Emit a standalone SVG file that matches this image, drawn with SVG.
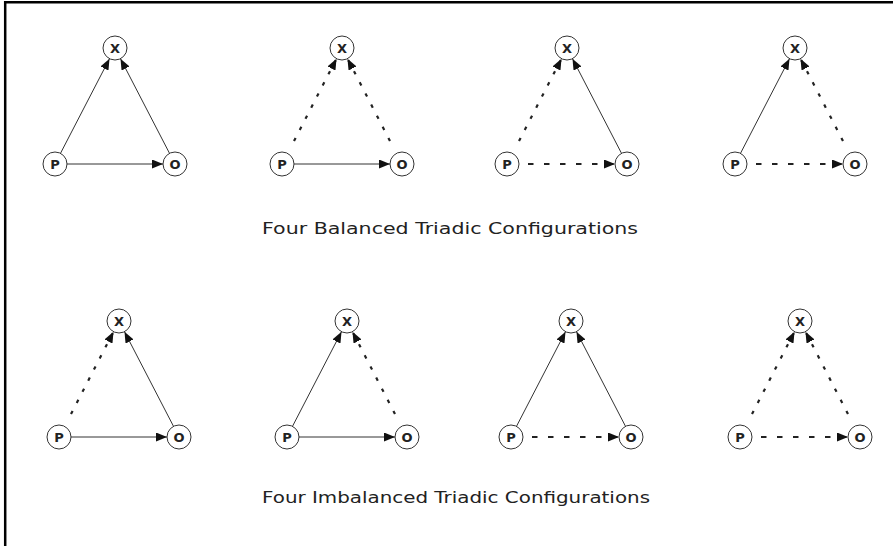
<svg xmlns="http://www.w3.org/2000/svg" width="893" height="546" viewBox="0 0 893 546">
<style>
.node circle{fill:#fff;stroke:#333;stroke-width:1}
.node text{font-family:"DejaVu Sans","Liberation Sans",sans-serif;font-weight:bold;font-size:13px;fill:#222;text-anchor:middle}
.solid{stroke:#333;stroke-width:1;fill:none}
.dot{stroke:#222;stroke-width:2.2;stroke-dasharray:3.5 9;fill:none}
.dash{stroke:#222;stroke-width:2;stroke-dasharray:5.5 10.5;fill:none}
.cap{font-family:"DejaVu Sans","Liberation Sans",sans-serif;font-size:15.5px;fill:#222;text-anchor:middle}
.frame{stroke:#000;stroke-width:2.5;fill:none}
</style>
<defs>
<marker id="ah" viewBox="0 0 11 9" refX="11" refY="4.5" markerWidth="11" markerHeight="9" markerUnits="userSpaceOnUse" orient="auto">
<path d="M0,0 L11,4.5 L0,9 z" fill="#111"/>
</marker>
</defs>
<rect width="893" height="546" fill="#fff"/>
<path class="frame" d="M4,2.2 H893 M5.2,1 V546"/>

<g id="connectors">
<g transform="translate(55,164)">
<line class="solid" x1="5.5" y1="-10.7" x2="54.5" y2="-105.3" marker-end="url(#ah)"/>
<line class="solid" x1="114.5" y1="-10.7" x2="65.5" y2="-105.3" marker-end="url(#ah)"/>
<line class="solid" x1="12" y1="0" x2="108" y2="0" marker-end="url(#ah)"/>
</g>
<g transform="translate(282,164)">
<line class="dot" x1="12" y1="-23" x2="54.5" y2="-105.3" marker-end="url(#ah)"/>
<line class="dot" x1="108" y1="-23" x2="65.5" y2="-105.3" marker-end="url(#ah)"/>
<line class="solid" x1="12" y1="0" x2="108" y2="0" marker-end="url(#ah)"/>
</g>
<g transform="translate(507,164)">
<line class="dot" x1="12" y1="-23" x2="54.5" y2="-105.3" marker-end="url(#ah)"/>
<line class="solid" x1="114.5" y1="-10.7" x2="65.5" y2="-105.3" marker-end="url(#ah)"/>
<line class="dash" x1="21" y1="0" x2="108" y2="0" marker-end="url(#ah)"/>
</g>
<g transform="translate(735,164)">
<line class="solid" x1="5.5" y1="-10.7" x2="54.5" y2="-105.3" marker-end="url(#ah)"/>
<line class="dot" x1="108" y1="-23" x2="65.5" y2="-105.3" marker-end="url(#ah)"/>
<line class="dash" x1="21" y1="0" x2="108" y2="0" marker-end="url(#ah)"/>
</g>
<g transform="translate(59,437)">
<line class="dot" x1="12" y1="-23" x2="54.5" y2="-105.3" marker-end="url(#ah)"/>
<line class="solid" x1="114.5" y1="-10.7" x2="65.5" y2="-105.3" marker-end="url(#ah)"/>
<line class="solid" x1="12" y1="0" x2="108" y2="0" marker-end="url(#ah)"/>
</g>
<g transform="translate(287,437)">
<line class="solid" x1="5.5" y1="-10.7" x2="54.5" y2="-105.3" marker-end="url(#ah)"/>
<line class="dot" x1="108" y1="-23" x2="65.5" y2="-105.3" marker-end="url(#ah)"/>
<line class="solid" x1="12" y1="0" x2="108" y2="0" marker-end="url(#ah)"/>
</g>
<g transform="translate(511,437)">
<line class="solid" x1="5.5" y1="-10.7" x2="54.5" y2="-105.3" marker-end="url(#ah)"/>
<line class="solid" x1="114.5" y1="-10.7" x2="65.5" y2="-105.3" marker-end="url(#ah)"/>
<line class="dash" x1="21" y1="0" x2="108" y2="0" marker-end="url(#ah)"/>
</g>
<g transform="translate(740,437)">
<line class="dot" x1="12" y1="-23" x2="54.5" y2="-105.3" marker-end="url(#ah)"/>
<line class="dot" x1="108" y1="-23" x2="65.5" y2="-105.3" marker-end="url(#ah)"/>
<line class="dash" x1="21" y1="0" x2="108" y2="0" marker-end="url(#ah)"/>
</g>
</g>

<g id="t1-x" class="node"><circle cx="115" cy="48" r="12"/><text x="115" y="52.5">X</text></g>
<g id="t1-p" class="node"><circle cx="55" cy="164" r="12"/><text x="55" y="168.5">P</text></g>
<g id="t1-o" class="node"><circle cx="175" cy="164" r="12"/><text x="175" y="168.5">O</text></g>

<g id="t2-x" class="node"><circle cx="342" cy="48" r="12"/><text x="342" y="52.5">X</text></g>
<g id="t2-p" class="node"><circle cx="282" cy="164" r="12"/><text x="282" y="168.5">P</text></g>
<g id="t2-o" class="node"><circle cx="402" cy="164" r="12"/><text x="402" y="168.5">O</text></g>

<g id="t3-x" class="node"><circle cx="567" cy="48" r="12"/><text x="567" y="52.5">X</text></g>
<g id="t3-p" class="node"><circle cx="507" cy="164" r="12"/><text x="507" y="168.5">P</text></g>
<g id="t3-o" class="node"><circle cx="627" cy="164" r="12"/><text x="627" y="168.5">O</text></g>

<g id="t4-x" class="node"><circle cx="795" cy="48" r="12"/><text x="795" y="52.5">X</text></g>
<g id="t4-p" class="node"><circle cx="735" cy="164" r="12"/><text x="735" y="168.5">P</text></g>
<g id="t4-o" class="node"><circle cx="855" cy="164" r="12"/><text x="855" y="168.5">O</text></g>

<g id="t5-x" class="node"><circle cx="119" cy="321" r="12"/><text x="119" y="325.5">X</text></g>
<g id="t5-p" class="node"><circle cx="59" cy="437" r="12"/><text x="59" y="441.5">P</text></g>
<g id="t5-o" class="node"><circle cx="179" cy="437" r="12"/><text x="179" y="441.5">O</text></g>

<g id="t6-x" class="node"><circle cx="347" cy="321" r="12"/><text x="347" y="325.5">X</text></g>
<g id="t6-p" class="node"><circle cx="287" cy="437" r="12"/><text x="287" y="441.5">P</text></g>
<g id="t6-o" class="node"><circle cx="407" cy="437" r="12"/><text x="407" y="441.5">O</text></g>

<g id="t7-x" class="node"><circle cx="571" cy="321" r="12"/><text x="571" y="325.5">X</text></g>
<g id="t7-p" class="node"><circle cx="511" cy="437" r="12"/><text x="511" y="441.5">P</text></g>
<g id="t7-o" class="node"><circle cx="631" cy="437" r="12"/><text x="631" y="441.5">O</text></g>

<g id="t8-x" class="node"><circle cx="800" cy="321" r="12"/><text x="800" y="325.5">X</text></g>
<g id="t8-p" class="node"><circle cx="740" cy="437" r="12"/><text x="740" y="441.5">P</text></g>
<g id="t8-o" class="node"><circle cx="860" cy="437" r="12"/><text x="860" y="441.5">O</text></g>

<text class="cap" x="450" y="234" textLength="376" lengthAdjust="spacingAndGlyphs">Four Balanced Triadic Configurations</text>
<text class="cap" x="456" y="503" textLength="388" lengthAdjust="spacingAndGlyphs">Four Imbalanced Triadic Configurations</text>
</svg>
